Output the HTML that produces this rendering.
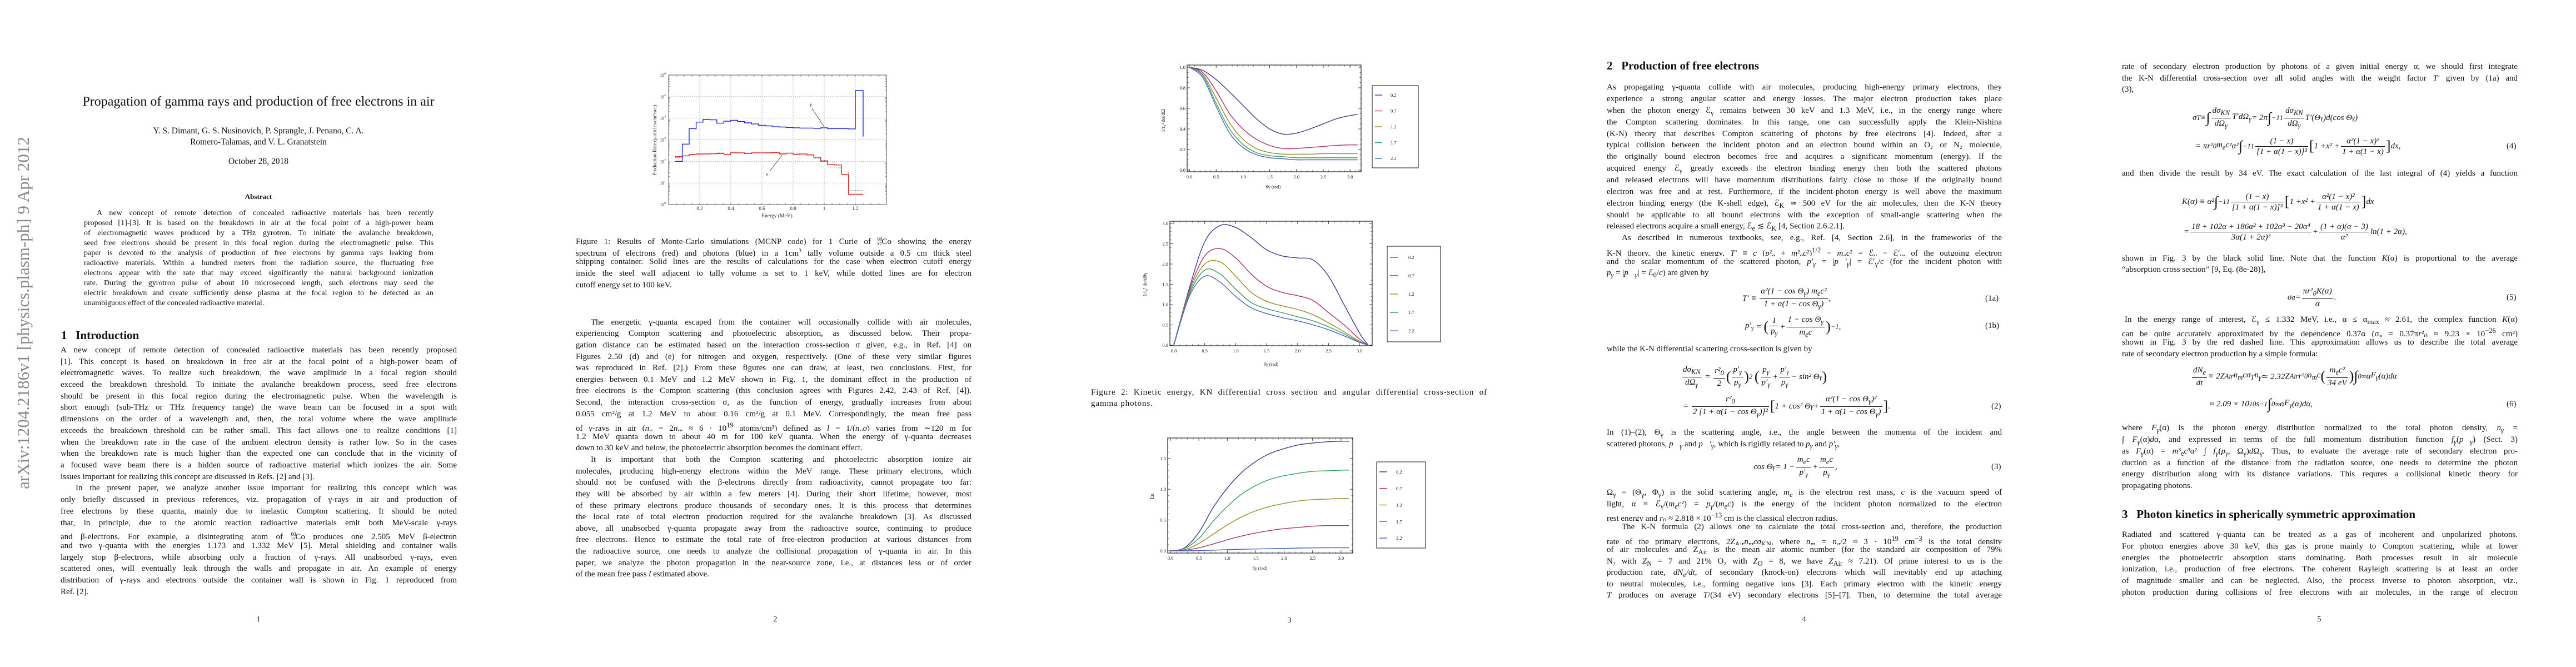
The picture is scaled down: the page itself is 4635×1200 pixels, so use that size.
<!DOCTYPE html>
<html><head><meta charset="utf-8">
<style>
html,body{margin:0;padding:0;background:#fff;}
body{width:4635px;height:1200px;position:relative;overflow:hidden;font-family:"Liberation Serif","DejaVu Serif",serif;color:#111;}
.ln{position:absolute;height:21px;line-height:21px;font-size:15px;overflow:hidden;text-align:justify;text-align-last:justify;white-space:normal;}
.ln.e{text-align-last:left;}
.ln.i{text-indent:27px;}
.ab{font-size:14px;height:19px;line-height:19px;}
.ctr{position:absolute;text-align:center;white-space:nowrap;}
.h{position:absolute;font-size:21px;font-weight:bold;white-space:nowrap;}
.pn{position:absolute;font-size:14px;width:20px;text-align:center;}
.eq{position:absolute;height:56px;display:flex;align-items:center;font-size:15px;white-space:nowrap;font-style:italic;}
.eqn{position:absolute;font-size:15px;height:20px;line-height:20px;}
.fr{display:inline-block;vertical-align:middle;text-align:center;margin:0 2px;}
.fr>span{display:block;line-height:18px;padding:0 2px;}
.fr>span+span{border-top:1px solid #111;}
.big{font-size:26px;font-style:normal;}
.up{font-style:normal;}
svg text{font-family:"Liberation Serif",serif;}
</style></head>
<body>

<svg id="charts" width="4635" height="1200" style="position:absolute;left:0;top:0;"></svg>

<!-- PAGE 1 -->
<div style="position:absolute;left:42px;top:563px;width:0;height:0;">
  <div style="position:absolute;transform:translate(-50%,-50%) rotate(-90deg);font-size:31px;color:#8a8a8a;white-space:nowrap;">arXiv:1204.2186v1  [physics.plasm-ph]  9 Apr 2012</div>
</div>
<div class="ctr" style="left:0;width:930px;top:170px;font-size:24px;">Propagation of gamma rays and production of free electrons in air</div>
<div class="ctr" style="left:0;width:930px;top:226px;font-size:15.5px;line-height:20px;">Y. S. Dimant, G. S. Nusinovich, P. Sprangle, J. Penano, C. A.<br>Romero-Talamas, and V. L. Granatstein</div>
<div class="ctr" style="left:0;width:930px;top:282px;font-size:15.5px;">October 28, 2018</div>
<div class="ctr" style="left:0;width:930px;top:346px;font-size:13px;font-weight:bold;">Abstract</div>
<div>
<div class="ln ab" style="left:151px;width:629px;top:374px;text-indent:23px;">A new concept of remote detection of concealed radioactive materials has been recently</div>
<div class="ln ab" style="left:151px;width:629px;top:392px;">proposed [1]-[3]. It is based on the breakdown in air at the focal point of a high-power beam</div>
<div class="ln ab" style="left:151px;width:629px;top:410px;">of electromagnetic waves produced by a THz gyrotron. To initiate the avalanche breakdown,</div>
<div class="ln ab" style="left:151px;width:629px;top:428px;">seed free electrons should be present in this focal region during the electromagnetic pulse. This</div>
<div class="ln ab" style="left:151px;width:629px;top:446px;">paper is devoted to the analysis of production of free electrons by gamma rays leaking from</div>
<div class="ln ab" style="left:151px;width:629px;top:464px;">radioactive materials. Within a hundred meters from the radiation source, the fluctuating free</div>
<div class="ln ab" style="left:151px;width:629px;top:482px;">electrons appear with the rate that may exceed significantly the natural background ionization</div>
<div class="ln ab" style="left:151px;width:629px;top:500px;">rate. During the gyrotron pulse of about 10 microsecond length, such electrons may seed the</div>
<div class="ln ab" style="left:151px;width:629px;top:518px;">electric breakdown and create sufficiently dense plasma at the focal region to be detected as an</div>
<div class="ln ab e" style="left:151px;width:629px;top:536px;">unambiguous effect of the concealed radioactive material.</div>
</div>
<div class="h" style="left:110px;top:591px;">1&nbsp;&nbsp;&nbsp;Introduction</div>
<div>
<div class="ln" style="left:109px;width:713px;top:620px;">A new concept of remote detection of concealed radioactive materials has been recently proposed</div>
<div class="ln" style="left:109px;width:713px;top:641px;">[1]. This concept is based on breakdown in free air at the focal point of a high-power beam of</div>
<div class="ln" style="left:109px;width:713px;top:661px;">electromagnetic waves. To realize such breakdown, the wave amplitude in a focal region should</div>
<div class="ln" style="left:109px;width:713px;top:682px;">exceed the breakdown threshold. To initiate the avalanche breakdown process, seed free electrons</div>
<div class="ln" style="left:109px;width:713px;top:703px;">should be present in this focal region during the electromagnetic pulse. When the wavelength is</div>
<div class="ln" style="left:109px;width:713px;top:723px;">short enough (sub-THz or THz frequency range) the wave beam can be focused in a spot with</div>
<div class="ln" style="left:109px;width:713px;top:744px;">dimensions on the order of a wavelength and, then, the total volume where the wave amplitude</div>
<div class="ln" style="left:109px;width:713px;top:765px;">exceeds the breakdown threshold can be rather small. This fact allows one to realize conditions [1]</div>
<div class="ln" style="left:109px;width:713px;top:786px;">when the breakdown rate in the case of the ambient electron density is rather low. So in the cases</div>
<div class="ln" style="left:109px;width:713px;top:806px;">when the breakdown rate is much higher than the expected one can conclude that in the vicinity of</div>
<div class="ln" style="left:109px;width:713px;top:827px;">a focused wave beam there is a hidden source of radioactive material which ionizes the air. Some</div>
<div class="ln e" style="left:109px;width:713px;top:848px;">issues important for realizing this concept are discussed in Refs. [2] and [3].</div>
<div class="ln i" style="left:109px;width:713px;top:868px;">In the present paper, we analyze another issue important for realizing this concept which was</div>
<div class="ln" style="left:109px;width:713px;top:889px;">only briefly discussed in previous references, viz. propagation of γ-rays in air and production of</div>
<div class="ln" style="left:109px;width:713px;top:910px;">free electrons by these quanta, mainly due to inelastic Compton scattering. It should be noted</div>
<div class="ln" style="left:109px;width:713px;top:931px;">that, in principle, due to the atomic reaction radioactive materials emit both MeV-scale γ-rays</div>
<div class="ln" style="left:109px;width:713px;top:951px;">and β-electrons. For example, a disintegrating atom of <sup style="font-size:9px">60</sup><sub style="font-size:9px;margin-left:-10px">27</sub>Co produces one 2.505 MeV β-electron</div>
<div class="ln" style="left:109px;width:713px;top:972px;">and two γ-quanta with the energies 1.173 and 1.332 MeV [5]. Metal shielding and container walls</div>
<div class="ln" style="left:109px;width:713px;top:993px;">largely stop β-electrons, while absorbing only a fraction of γ-rays. All unabsorbed γ-rays, even</div>
<div class="ln" style="left:109px;width:713px;top:1013px;">scattered ones, will eventually leak through the walls and propagate in air. An example of energy</div>
<div class="ln" style="left:109px;width:713px;top:1034px;">distribution of γ-rays and electrons outside the container wall is shown in Fig. 1 reproduced from</div>
<div class="ln e" style="left:109px;width:713px;top:1055px;">Ref. [2].</div>
</div>
<div class="pn" style="left:455px;top:1107px;">1</div>

<!-- PAGE 2 -->
<div>
<div class="ln" style="left:1036px;width:712px;top:420px;">Figure 1: Results of Monte-Carlo simulations (MCNP code) for 1 Curie of <sup style="font-size:9px">60</sup><sub style="font-size:9px;margin-left:-10px">27</sub>Co showing the energy</div>
<div class="ln" style="left:1036px;width:712px;top:441px;">spectrum of electrons (red) and photons (blue) in a 1cm<sup style="font-size:9px">3</sup> tally volume outside a 0.5 cm thick steel</div>
<div class="ln" style="left:1036px;width:712px;top:461px;">shipping container. Solid lines are the results of calculations for the case when electron cutoff energy</div>
<div class="ln" style="left:1036px;width:712px;top:482px;">inside the steel wall adjacent to tally volume is set to 1 keV, while dotted lines are for electron</div>
<div class="ln e" style="left:1036px;width:712px;top:503px;">cutoff energy set to 100 keV.</div>
</div>
<div>
<div class="ln i" style="left:1036px;width:712px;top:570px;">The energetic γ-quanta escaped from the container will occasionally collide with air molecules,</div>
<div class="ln" style="left:1036px;width:712px;top:590px;">experiencing Compton scattering and photoelectric absorption, as discussed below. Their propa-</div>
<div class="ln" style="left:1036px;width:712px;top:611px;">gation distance can be estimated based on the interaction cross-section σ given, e.g., in Ref. [4] on</div>
<div class="ln" style="left:1036px;width:712px;top:632px;">Figures 2.50 (d) and (e) for nitrogen and oxygen, respectively. (One of these very similar figures</div>
<div class="ln" style="left:1036px;width:712px;top:652px;">was reproduced in Ref. [2].) From these figures one can draw, at least, two conclusions. First, for</div>
<div class="ln" style="left:1036px;width:712px;top:673px;">energies between 0.1 MeV and 1.2 MeV shown in Fig. 1, the dominant effect in the production of</div>
<div class="ln" style="left:1036px;width:712px;top:693px;">free electrons is the Compton scattering (this conclusion agrees with Figures 2.42, 2.43 of Ref. [4]).</div>
<div class="ln" style="left:1036px;width:712px;top:714px;">Second, the interaction cross-section σ, as the function of energy, gradually increases from about</div>
<div class="ln" style="left:1036px;width:712px;top:735px;">0.055 cm²/g at 1.2 MeV to about 0.16 cm²/g at 0.1 MeV. Correspondingly, the mean free pass</div>
<div class="ln" style="left:1036px;width:712px;top:755px;">of γ-rays in air (<i>n<sub>a</sub></i> = 2<i>n<sub>m</sub></i> ≈ 6 · 10<sup>19</sup> atoms/cm³) defined as <i>l</i> = 1/(<i>n<sub>a</sub>σ</i>) varies from ∼120 m for</div>
<div class="ln" style="left:1036px;width:712px;top:776px;">1.2 MeV quanta down to about 40 m for 100 keV quanta. When the energy of γ-quanta decreases</div>
<div class="ln e" style="left:1036px;width:712px;top:796px;">down to 30 keV and below, the photoelectric absorption becomes the dominant effect.</div>
<div class="ln i" style="left:1036px;width:712px;top:817px;">It is important that both the Compton scattering and photoelectric absorption ionize air</div>
<div class="ln" style="left:1036px;width:712px;top:838px;">molecules, producing high-energy electrons within the MeV range. These primary electrons, which</div>
<div class="ln" style="left:1036px;width:712px;top:858px;">should not be confused with the β-electrons directly from radioactivity, cannot propagate too far:</div>
<div class="ln" style="left:1036px;width:712px;top:879px;">they will be absorbed by air within a few meters [4]. During their short lifetime, however, most</div>
<div class="ln" style="left:1036px;width:712px;top:900px;">of these primary electrons produce thousands of secondary ones. It is this process that determines</div>
<div class="ln" style="left:1036px;width:712px;top:920px;">the local rate of total electron production required for the avalanche breakdown [3]. As discussed</div>
<div class="ln" style="left:1036px;width:712px;top:941px;">above, all unabsorbed γ-quanta propagate away from the radioactive source, continuing to produce</div>
<div class="ln" style="left:1036px;width:712px;top:961px;">free electrons. Hence to estimate the total rate of free-electron production at various distances from</div>
<div class="ln" style="left:1036px;width:712px;top:982px;">the radioactive source, one needs to analyze the collisional propagation of γ-quanta in air. In this</div>
<div class="ln" style="left:1036px;width:712px;top:1003px;">paper, we analyze the photon propagation in the near-source zone, i.e., at distances less or of order</div>
<div class="ln e" style="left:1036px;width:712px;top:1023px;">of the mean free pass <i>l</i> estimated above.</div>
</div>
<div class="pn" style="left:1385px;top:1107px;">2</div>

<!-- PAGE 3 -->
<div>
<div class="ln" style="left:1963px;width:713px;top:696px;letter-spacing:0.9px;">Figure 2: Kinetic energy, KN differential cross section and angular differential cross-section of</div>
<div class="ln e" style="left:1963px;width:713px;top:716px;letter-spacing:0.9px;">gamma photons.</div>
</div>
<div class="pn" style="left:2310px;top:1109px;">3</div>

<!-- PAGE 4 -->
<div class="h" style="left:2891px;top:106px;">2&nbsp;&nbsp;&nbsp;Production of free electrons</div>
<div>
<div class="ln" style="left:2891px;width:711px;top:147px;">As propagating γ-quanta collide with air molecules, producing high-energy primary electrons, they</div>
<div class="ln" style="left:2891px;width:711px;top:168px;">experience a strong angular scatter and energy losses. The major electron production takes place</div>
<div class="ln" style="left:2891px;width:711px;top:189px;">when the photon energy ℰ<sub>γ</sub> remains between 30 keV and 1.3 MeV, i.e., in the energy range where</div>
<div class="ln" style="left:2891px;width:711px;top:210px;">the Compton scattering dominates. In this range, one can successfully apply the Klein-Nishina</div>
<div class="ln" style="left:2891px;width:711px;top:231px;">(K-N) theory that describes Compton scattering of photons by free electrons [4]. Indeed, after a</div>
<div class="ln" style="left:2891px;width:711px;top:251px;">typical collision between the incident photon and an electron bound within an O₂ or N₂ molecule,</div>
<div class="ln" style="left:2891px;width:711px;top:272px;">the originally bound electron becomes free and acquires a significant momentum (energy). If the</div>
<div class="ln" style="left:2891px;width:711px;top:293px;">acquired energy ℰ<sub>γ</sub> greatly exceeds the electron binding energy then both the scattered photons</div>
<div class="ln" style="left:2891px;width:711px;top:314px;">and released electrons will have momentum distributions fairly close to those if the originally bound</div>
<div class="ln" style="left:2891px;width:711px;top:335px;">electron was free and at rest. Furthermore, if the incident-photon energy is well above the maximum</div>
<div class="ln" style="left:2891px;width:711px;top:356px;">electron binding energy (the K-shell edge), ℰ<sub>K</sub> ≃ 500 eV for the air molecules, then the K-N theory</div>
<div class="ln" style="left:2891px;width:711px;top:377px;">should be applicable to all bound electrons with the exception of small-angle scattering when the</div>
<div class="ln e" style="left:2891px;width:711px;top:397px;">released electrons acquire a small energy, ℰ<sub>e</sub> ≲ ℰ<sub>K</sub> [4, Section 2.6.2.1].</div>
<div class="ln i" style="left:2891px;width:711px;top:418px;">As described in numerous textbooks, see, e.g., Ref. [4, Section 2.6], in the frameworks of the</div>
<div class="ln" style="left:2891px;width:711px;top:440px;">K-N theory, the kinetic energy, <i>T′</i> ≡ <i>c</i> (<i>p</i>²<sub>e</sub> + <i>m</i>²<sub>e</sub><i>c</i>²)<sup>1/2</sup> − <i>m<sub>e</sub>c</i>² = ℰ<sub>γ</sub> − ℰ′<sub>γ</sub>, of the outgoing electron</div>
<div class="ln" style="left:2891px;width:711px;top:461px;">and the scalar momentum of the scattered photon, <i>p′<sub>γ</sub></i> = |<i>p⃗′<sub>γ</sub></i>| = ℰ′<sub>γ</sub>/<i>c</i> (for the incident photon with</div>
<div class="ln e" style="left:2891px;width:711px;top:481px;"><i>p<sub>γ</sub></i> = |<i>p⃗<sub>γ</sub></i>| = ℰ<sub>0</sub>/<i>c</i>) are given by</div>
</div>
<div class="eq" style="left:3135px;top:509px;"><i>T′</i>&nbsp;≡&nbsp;<span class="fr"><span>α²(1 − cos Θ<sub>γ</sub>) <i>m<sub>e</sub>c</i>²</span><span>1 + α(1 − cos Θ<sub>γ</sub>)</span></span>,</div>
<div class="eqn" style="left:3572px;top:527px;">(1a)</div>
<div class="eq" style="left:3140px;top:560px;"><i>p′<sub>γ</sub></i>&nbsp;=&nbsp;<span class="big">(</span><span class="fr"><span>1</span><span><i>p<sub>γ</sub></i></span></span>+<span class="fr"><span>1 − cos Θ<sub>γ</sub></span><span><i>m<sub>e</sub>c</i></span></span><span class="big">)</span><sup>−1</sup>,</div>
<div class="eqn" style="left:3572px;top:576px;">(1b)</div>
<div class="ln e" style="left:2891px;width:711px;top:618px;">while the K-N differential scattering cross-section is given by</div>
<div class="eq" style="left:3024px;top:650px;"><span class="fr"><span><i>dσ</i><sub>KN</sub></span><span><i>d</i>Ω<sub>γ</sub></span></span>&nbsp;=&nbsp;<span class="fr"><span><i>r</i>²<sub>0</sub></span><span>2</span></span><span class="big">(</span><span class="fr"><span><i>p′<sub>γ</sub></i></span><span><i>p<sub>γ</sub></i></span></span><span class="big">)</span><sup>2</sup>&nbsp;<span class="big">(</span><span class="fr"><span><i>p<sub>γ</sub></i></span><span><i>p′<sub>γ</sub></i></span></span>+<span class="fr"><span><i>p′<sub>γ</sub></i></span><span><i>p<sub>γ</sub></i></span></span>− sin² Θ<sub>γ</sub><span class="big">)</span></div>
<div class="eq" style="left:3028px;top:703px;">=&nbsp;<span class="fr"><span><i>r</i>²<sub>0</sub></span><span>2 [1 + α(1 − cos Θ<sub>γ</sub>)]²</span></span><span class="big">[</span>1 + cos² Θ<sub>γ</sub> + <span class="fr"><span>α²(1 − cos Θ<sub>γ</sub>)²</span><span>1 + α(1 − cos Θ<sub>γ</sub>)</span></span><span class="big">]</span>.</div>
<div class="eqn" style="left:3583px;top:721px;">(2)</div>
<div class="ln" style="left:2891px;width:711px;top:768px;">In (1)–(2), Θ<sub>γ</sub> is the scattering angle, i.e., the angle between the momenta of the incident and</div>
<div class="ln e" style="left:2891px;width:711px;top:789px;">scattered photons, <i>p⃗<sub>γ</sub></i> and <i>p⃗′<sub>γ</sub></i>, which is rigidly related to <i>p<sub>γ</sub></i> and <i>p′<sub>γ</sub></i>,</div>
<div class="eq" style="left:3155px;top:812px;">cos Θ<sub>γ</sub> = 1 − <span class="fr"><span><i>m<sub>e</sub>c</i></span><span><i>p′<sub>γ</sub></i></span></span>+<span class="fr"><span><i>m<sub>e</sub>c</i></span><span><i>p<sub>γ</sub></i></span></span>,</div>
<div class="eqn" style="left:3583px;top:830px;">(3)</div>
<div class="ln" style="left:2891px;width:711px;top:876px;">Ω<sub>γ</sub> = (Θ<sub>γ</sub>, Φ<sub>γ</sub>) is the solid scattering angle, <i>m<sub>e</sub></i> is the electron rest mass, <i>c</i> is the vacuum speed of</div>
<div class="ln" style="left:2891px;width:711px;top:897px;">light, α ≡ ℰ<sub>γ</sub>/(<i>m<sub>e</sub>c</i>²) = <i>p<sub>γ</sub></i>/(<i>m<sub>e</sub>c</i>) is the energy of the incident photon normalized to the electron</div>
<div class="ln e" style="left:2891px;width:711px;top:917px;">rest energy and <i>r</i><sub>0</sub> ≈ 2.818 × 10<sup>−13</sup> cm is the classical electron radius.</div>
<div class="ln i" style="left:2891px;width:711px;top:938px;">The K-N formula (2) allows one to calculate the total cross-section and, therefore, the production</div>
<div class="ln" style="left:2891px;width:711px;top:959px;">rate of the primary electrons, 2<i>Z</i><sub>Air</sub><i>n<sub>m</sub>cσ</i><sub>KN</sub>, where <i>n<sub>m</sub></i> = <i>n<sub>a</sub></i>/2 ≈ 3 · 10<sup>19</sup> cm<sup>−3</sup> is the total density</div>
<div class="ln" style="left:2891px;width:711px;top:979px;">of air molecules and Z<sub>Air</sub> is the mean air atomic number (for the standard air composition of 79%</div>
<div class="ln" style="left:2891px;width:711px;top:1000px;">N₂ with <i>Z</i><sub>N</sub> = 7 and 21% O₂ with <i>Z</i><sub>O</sub> = 8, we have <i>Z</i><sub>Air</sub> ≈ 7.21). Of prime interest to us is the</div>
<div class="ln" style="left:2891px;width:711px;top:1020px;">production rate, <i>dN<sub>e</sub>/dt</i>, of secondary (knock-on) electrons which will inevitably end up attaching</div>
<div class="ln" style="left:2891px;width:711px;top:1041px;">to neutral molecules, i.e., forming negative ions [3]. Each primary electron with the kinetic energy</div>
<div class="ln" style="left:2891px;width:711px;top:1061px;"><i>T</i> produces on average <i>T</i>/(34 eV) secondary electrons [5]–[7]. Then, to determine the total average</div>
<div class="pn" style="left:3236px;top:1107px;">4</div>

<!-- PAGE 5 -->
<div class="ln" style="left:3818px;width:712px;top:110px;">rate of secondary electron production by photons of a given initial energy α, we should first integrate</div>
<div class="ln" style="left:3818px;width:712px;top:131px;">the K-N differential cross-section over all solid angles with the weight factor <i>T′</i> given by (1a) and</div>
<div class="ln e" style="left:3818px;width:712px;top:151px;">(3),</div>
<div class="eq" style="left:3945px;top:184px;">σ<sub>T</sub> ≡ <span class="big">∫</span><span class="fr"><span><i>dσ</i><sub>KN</sub></span><span><i>d</i>Ω<sub>γ</sub></span></span><i>T′dΩ<sub>γ</sub></i> = 2π <span class="big">∫</span><sub>−1</sub><sup>1</sup><span class="fr"><span><i>dσ</i><sub>KN</sub></span><span><i>d</i>Ω<sub>γ</sub></span></span><i>T′</i>(Θ<sub>γ</sub>)<i>d</i>(cos Θ<sub>γ</sub>)</div>
<div class="eq" style="left:3950px;top:235px;">= π<i>r</i>²<sub>0</sub><i>m<sub>e</sub>c</i>²α² <span class="big">∫</span><sub>−1</sub><sup>1</sup><span class="fr"><span>(1 − <i>x</i>)</span><span>[1 + α(1 − <i>x</i>)]³</span></span><span class="big">[</span>1 + <i>x</i>² + <span class="fr"><span>α²(1 − <i>x</i>)²</span><span>1 + α(1 − <i>x</i>)</span></span><span class="big">]</span> <i>dx</i>,</div>
<div class="eqn" style="left:4510px;top:253px;">(4)</div>
<div class="ln" style="left:3818px;width:712px;top:302px;">and then divide the result by 34 eV. The exact calculation of the last integral of (4) yields a function</div>
<div class="eq" style="left:3926px;top:335px;"><i>K</i>(α) ≡ α² <span class="big">∫</span><sub>−1</sub><sup>1</sup><span class="fr"><span>(1 − <i>x</i>)</span><span>[1 + α(1 − <i>x</i>)]³</span></span><span class="big">[</span>1 + <i>x</i>² + <span class="fr"><span>α²(1 − <i>x</i>)²</span><span>1 + α(1 − <i>x</i>)</span></span><span class="big">]</span> <i>dx</i></div>
<div class="eq" style="left:3929px;top:389px;">= <span class="fr"><span>18 + 102α + 186α² + 102α³ − 20α⁴</span><span>3α(1 + 2α)³</span></span>+<span class="fr"><span>(1 + α)(α − 3)</span><span>α²</span></span> ln(1 + 2α),</div>
<div class="ln" style="left:3818px;width:712px;top:455px;">shown in Fig. 3 by the black solid line. Note that the function <i>K</i>(α) is proportional to the average</div>
<div class="ln e" style="left:3818px;width:712px;top:475px;">“absorption cross section” [9, Eq. (8e-28)],</div>
<div class="eq" style="left:4116px;top:507px;">σ<sub>a</sub> = <span class="fr"><span>π<i>r</i>²<sub>0</sub><i>K</i>(α)</span><span>α</span></span>.</div>
<div class="eqn" style="left:4510px;top:525px;">(5)</div>
<div class="ln i" style="left:3818px;width:712px;top:565px;text-indent:5px;">In the energy range of interest, ℰ<sub>γ</sub> ≤ 1.332 MeV, i.e., α ≤ α<sub>max</sub> ≈ 2.61, the complex function <i>K</i>(α)</div>
<div class="ln" style="left:3818px;width:712px;top:585px;">can be quite accurately approximated by the dependence 0.37α (σ<sub>a</sub> = 0.37π<i>r</i>²<sub>0</sub> ≈ 9.23 × 10<sup>−26</sup> cm²)</div>
<div class="ln" style="left:3818px;width:712px;top:606px;">shown in Fig. 3 by the red dashed line. This approximation allows us to describe the total average</div>
<div class="ln e" style="left:3818px;width:712px;top:627px;">rate of secondary electron production by a simple formula:</div>
<div class="eq" style="left:3942px;top:649px;"><span class="fr"><span><i>dN<sub>e</sub></i></span><span><i>dt</i></span></span> ≡ 2<i>Z</i><sub>Air</sub><i>n<sub>m</sub>cσ<sub>T</sub>n<sub>γ</sub></i> ≃ 2.32<i>Z</i><sub>Air</sub><i>r</i>²<sub>0</sub><i>n<sub>m</sub>c</i><span class="big">(</span><span class="fr"><span><i>m<sub>e</sub>c</i>²</span><span>34 eV</span></span><span class="big">)</span><span class="big">∫</span><sub>0</sub><sup>∞</sup> α<i>F<sub>γ</sub></i>(α)<i>d</i>α</div>
<div class="eq" style="left:3976px;top:699px;">≈ 2.09 × 10<sup>10</sup> s<sup>−1</sup> <span class="big">∫</span><sub>0</sub><sup>∞</sup> α<i>F<sub>γ</sub></i>(α)<i>d</i>α,</div>
<div class="eqn" style="left:4510px;top:717px;">(6)</div>
<div class="ln" style="left:3818px;width:712px;top:760px;">where <i>F<sub>γ</sub></i>(α) is the photon energy distribution normalized to the total photon density, <i>n<sub>γ</sub></i> =</div>
<div class="ln" style="left:3818px;width:712px;top:781px;">∫ <i>F<sub>γ</sub></i>(α)<i>d</i>α, and expressed in terms of the full momentum distribution function <i>f<sub>γ</sub></i>(<i>p⃗<sub>γ</sub></i>) (Sect. 3)</div>
<div class="ln" style="left:3818px;width:712px;top:802px;">as <i>F<sub>γ</sub></i>(α) = <i>m</i>³<sub>e</sub><i>c</i>³α² ∫ <i>f<sub>γ</sub></i>(<i>p<sub>γ</sub></i>, Ω<sub>γ</sub>)<i>d</i>Ω<sub>γ</sub>. Thus, to evaluate the average rate of secondary electron pro-</div>
<div class="ln" style="left:3818px;width:712px;top:823px;">duction as a function of the distance from the radiation source, one needs to determine the photon</div>
<div class="ln" style="left:3818px;width:712px;top:843px;">energy distribution along with its distance variations. This requres a collisional kinetic theory for</div>
<div class="ln e" style="left:3818px;width:712px;top:864px;">propagating photons.</div>
<div class="h" style="left:3818px;top:913px;">3&nbsp;&nbsp;&nbsp;Photon kinetics in spherically symmetric approximation</div>
<div class="ln" style="left:3818px;width:712px;top:952px;">Radiated and scattered γ-quanta can be treated as a gas of incoherent and unpolarized photons.</div>
<div class="ln" style="left:3818px;width:712px;top:973px;">For photon energies above 30 keV, this gas is prone mainly to Compton scattering, while at lower</div>
<div class="ln" style="left:3818px;width:712px;top:994px;">energies the photoelectric absorption starts dominating. Both processes result in air molecule</div>
<div class="ln" style="left:3818px;width:712px;top:1014px;">ionization, i.e., production of free electrons. The coherent Rayleigh scattering is at least an order</div>
<div class="ln" style="left:3818px;width:712px;top:1035px;">of magnitude smaller and can be neglected. Also, the process inverse to photon absorption, viz.,</div>
<div class="ln" style="left:3818px;width:712px;top:1056px;">photon production during collisions of free electrons with air molecules, in the range of electron</div>
<div class="pn" style="left:4163px;top:1107px;">5</div>

<script>
// ---------- Figure 1 data (MCNP spectra) ----------
const binEdges = [0.043,0.088,0.132,0.177,0.221,0.266,0.310,0.355,0.399,0.444,0.488,0.533,0.577,0.622,0.666,0.711,0.755,0.800,0.844,0.889,0.933,0.978,1.022,1.067,1.111,1.156,1.200,1.250];
const photonRate = [100,630,3300,6600,8700,8400,5900,7300,8000,7000,6100,5400,4700,4400,4000,3900,3700,3600,3500,3500,3400,3600,3300,3300,3300,3200,190000];
const photonTail = 1400;
const electronRate = [170,180,210,220,220,225,230,210,250,250,230,250,250,250,260,220,240,210,220,200,155,102,70,68,25,3,3];
const electronRateDotted = [150,175,200,215,225,230,245,240,255,250,240,245,250,255,255,240,245,225,215,190,140,110,55,50,32,4.5,4.5];
const fig1XTicks = [0.2,0.4,0.6,0.8,1,1.2];
const fig1XTickLabels = ['0.2','0.4','0.6','0.8','1','1.2'];
const fig1YDecades = [0,1,2,3,4,5,6];

// ---------- Figure 2/3 data (KN curves) ----------
const thetaGrid = [0,0.25,0.5,0.75,1.0,1.25,1.5,1.75,2.0,2.25,2.5,2.75,3.0,3.14];
const seriesLabels = ['0.2','0.7','1.2','1.7','2.2'];
const angA_02 = [1.0,0.97,0.88,0.76,0.63,0.50,0.40,0.35,0.36,0.40,0.45,0.50,0.53,0.54];
const angA_07 = [1.0,0.95,0.77,0.55,0.40,0.30,0.24,0.21,0.21,0.22,0.23,0.24,0.245,0.245];
const angA_12 = [1.0,0.93,0.70,0.46,0.30,0.21,0.17,0.155,0.155,0.155,0.16,0.16,0.16,0.16];
const angA_17 = [1.0,0.92,0.65,0.40,0.25,0.17,0.14,0.13,0.12,0.12,0.12,0.12,0.12,0.12];
const angA_22 = [1.0,0.90,0.62,0.36,0.22,0.15,0.12,0.11,0.10,0.10,0.10,0.10,0.10,0.10];
const angB_02 = [0,1.4,2.55,2.95,2.9,2.65,2.35,2.2,2.15,2.1,1.7,1.0,0.3,0];
const angB_07 = [0,1.35,2.2,2.38,2.15,1.75,1.45,1.3,1.22,1.1,0.8,0.5,0.15,0];
const angB_12 = [0,1.3,2.0,2.05,1.7,1.3,1.08,0.97,0.88,0.75,0.55,0.33,0.1,0];
const angB_17 = [0,1.25,1.85,1.75,1.38,1.05,0.9,0.8,0.7,0.6,0.45,0.28,0.08,0];
const angB_22 = [0,1.2,1.7,1.55,1.2,0.92,0.78,0.68,0.6,0.5,0.38,0.23,0.07,0];
const enC_top = [0,0.05,0.3,0.7,1.02,1.27,1.45,1.58,1.66,1.72,1.75,1.77,1.78,1.78];
const enC_second = [0,0.04,0.2,0.48,0.72,0.92,1.06,1.16,1.22,1.26,1.29,1.3,1.31,1.31];
const enC_third = [0,0.02,0.12,0.27,0.42,0.55,0.65,0.72,0.77,0.81,0.83,0.84,0.85,0.85];
const enC_fourth = [0,0.01,0.05,0.11,0.18,0.24,0.29,0.33,0.36,0.38,0.40,0.41,0.41,0.41];
const enC_fifth = [0,0,0.005,0.01,0.02,0.025,0.03,0.035,0.04,0.045,0.048,0.05,0.05,0.05];
const thetaTicks = [0,0.5,1.0,1.5,2.0,2.5,3.0];

const COLORS = ['#3a3a8c','#b0306e','#9a8a2c','#32a05a','#4462c4'];
const NS = 'http://www.w3.org/2000/svg';
const svg = document.getElementById('charts');

function mk(tag, parent, name) {
  const e = document.createElementNS(NS, tag);
  
  
  (parent || svg).appendChild(e);
  return e;
}
function txt(parent, name, x, y, s, size, anchor, extra) {
  const t = mk('text', parent, name);
  t.setAttribute('x', x); t.setAttribute('y', y);
  t.setAttribute('font-size', size); t.setAttribute('text-anchor', anchor || 'middle');
  t.setAttribute('fill', '#222');
  if (extra) t.setAttribute('transform', extra);
  t.textContent = s;
  return t;
}
function line(parent, name, x1, y1, x2, y2, stroke, w, dash) {
  const l = mk('line', parent, name);
  l.setAttribute('x1', x1); l.setAttribute('y1', y1); l.setAttribute('x2', x2); l.setAttribute('y2', y2);
  l.setAttribute('stroke', stroke); l.setAttribute('stroke-width', w);
  if (dash) l.setAttribute('stroke-dasharray', dash);
  return l;
}

// ---------- Figure 1 ----------
(function(){
  const g = mk('g', svg, 'figure-1-spectrum-chart');
  const X0 = 1203, X1 = 1595, Y0 = 368, Y1 = 135;
  const sx = v => X0 + (v - 0) / 1.4 * (X1 - X0);
  const sy = v => Y0 - Math.log10(Math.max(v, 1)) / 6 * (Y0 - Y1);
  fig1XTicks.forEach((t,i) => {
    line(g, 'x-gridline', sx(t), Y1, sx(t), Y0, '#888', 0.7, '1.5,2');
    txt(g, 'x-tick-label', sx(t), 378, fig1XTickLabels[i], 9, 'middle');
  });
  fig1YDecades.forEach(d => {
    const y = Y0 - d / 6 * (Y0 - Y1);
    if (d > 0 && d < 6) line(g, 'y-gridline', X0, y, X1, y, '#888', 0.7, '1.5,2');
    const t = txt(g, 'y-tick-label', X0 - 5, y + 3, '10', 8, 'end');
    const sup = document.createElementNS(NS, 'tspan');
    sup.setAttribute('dy', '-4'); sup.setAttribute('font-size', '5.5');
    sup.textContent = String(d);
    t.appendChild(sup);
    for (let m = 2; m < 10 && d < 6; m++) {
      const ym = Y0 - (d + Math.log10(m)) / 6 * (Y0 - Y1);
      line(g, 'y-minor-tick', X0, ym, X0 + 2.5, ym, '#444', 0.6);
      line(g, 'y-minor-tick', X1, ym, X1 - 2.5, ym, '#444', 0.6);
    }
  });
  for (let k = 1; k < 28; k++) {
    const xv = k * 0.05;
    line(g, 'x-minor-tick', sx(xv), Y0, sx(xv), Y0 - 3, '#444', 0.6);
    line(g, 'x-minor-tick', sx(xv), Y1, sx(xv), Y1 + 3, '#444', 0.6);
  }
  const frame = mk('rect', g, 'plot-frame');
  frame.setAttribute('x', X0); frame.setAttribute('y', Y1); frame.setAttribute('width', X1 - X0); frame.setAttribute('height', Y0 - Y1);
  frame.setAttribute('fill', 'none'); frame.setAttribute('stroke', '#555'); frame.setAttribute('stroke-width', 1);

  function stepPath(vals, tail) {
    let d = 'M' + sx(binEdges[0]).toFixed(1) + ',' + sy(vals[0]).toFixed(1);
    for (let i = 0; i < vals.length; i++) {
      if (i > 0) d += 'V' + sy(vals[i]).toFixed(1);
      d += 'H' + sx(binEdges[i + 1]).toFixed(1);
    }
    if (tail !== undefined) d += 'V' + sy(tail).toFixed(1);
    return d;
  }
  const pDot = mk('path', g, 'electron-dotted-series');
  pDot.setAttribute('d', stepPath(electronRateDotted));
  pDot.setAttribute('fill', 'none'); pDot.setAttribute('stroke', '#333'); pDot.setAttribute('stroke-width', 0.8); pDot.setAttribute('stroke-dasharray', '1,1.5');
  const pE = mk('path', g, 'electron-series');
  pE.setAttribute('d', stepPath(electronRate));
  pE.setAttribute('fill', 'none'); pE.setAttribute('stroke', '#dd2222'); pE.setAttribute('stroke-width', 1.4);
  const pG = mk('path', g, 'photon-series');
  pG.setAttribute('d', stepPath(photonRate, photonTail));
  pG.setAttribute('fill', 'none'); pG.setAttribute('stroke', '#2222dd'); pG.setAttribute('stroke-width', 1.4);

  txt(g, 'x-axis-title', 1398, 391, 'Energy (MeV)', 9.5, 'middle');
  txt(g, 'y-axis-title', 1181, 252, 'Production Rate (particles/cm³/sec)', 9, 'middle', 'rotate(-90 1181 252)');
  txt(g, 'gamma-annotation', 1459, 191, 'γ', 9, 'middle');
  line(g, 'gamma-arrow', 1461, 195, 1483, 228, '#222', 0.7);
  txt(g, 'electron-annotation', 1380, 317, 'e', 9, 'middle');
  line(g, 'electron-arrow', 1385, 308, 1407, 279, '#222', 0.7);
})();

// ---------- Curve chart helper ----------
function smoothPath(xs, ys, sx, sy) {
  const P = xs.map((x,i) => [sx(x), sy(ys[i])]);
  let d = 'M' + P[0][0].toFixed(1) + ',' + P[0][1].toFixed(1);
  for (let i = 0; i < P.length - 1; i++) {
    const p0 = P[Math.max(i-1,0)], p1 = P[i], p2 = P[i+1], p3 = P[Math.min(i+2,P.length-1)];
    const c1 = [p1[0] + (p2[0]-p0[0])/6, p1[1] + (p2[1]-p0[1])/6];
    const c2 = [p2[0] - (p3[0]-p1[0])/6, p2[1] - (p3[1]-p1[1])/6];
    d += 'C' + c1[0].toFixed(1)+','+c1[1].toFixed(1)+' '+c2[0].toFixed(1)+','+c2[1].toFixed(1)+' '+p2[0].toFixed(1)+','+p2[1].toFixed(1);
  }
  return d;
}
function curveChart(cfg) {
  const g = mk('g', svg, cfg.name);
  const sx = v => cfg.x0 + v * cfg.kx;
  const sy = v => cfg.y0 - v * cfg.ky;
  const fr = mk('rect', g, 'plot-frame');
  fr.setAttribute('x', cfg.fx0); fr.setAttribute('y', cfg.fy0); fr.setAttribute('width', cfg.fx1 - cfg.fx0); fr.setAttribute('height', cfg.fy1 - cfg.fy0);
  fr.setAttribute('fill', 'none'); fr.setAttribute('stroke', '#222'); fr.setAttribute('stroke-width', 1.2);
  thetaTicks.forEach(t => {
    line(g, 'x-major-tick', sx(t), cfg.fy1, sx(t), cfg.fy1 - 5, '#222', 0.8);
    line(g, 'x-major-tick', sx(t), cfg.fy0, sx(t), cfg.fy0 + 5, '#222', 0.8);
    txt(g, 'x-tick-label', sx(t), cfg.fy1 + 12, t.toFixed(1), 8.5, 'middle');
  });
  for (let k = 0; k <= 32; k++) {
    const v = k * 0.1;
    if (sx(v) < cfg.fx1) {
      line(g, 'x-minor-tick', sx(v), cfg.fy1, sx(v), cfg.fy1 - 2.5, '#222', 0.6);
      line(g, 'x-minor-tick', sx(v), cfg.fy0, sx(v), cfg.fy0 + 2.5, '#222', 0.6);
    }
  }
  cfg.yTicks.forEach(t => {
    line(g, 'y-major-tick', cfg.fx0, sy(t), cfg.fx0 + 5, sy(t), '#222', 0.8);
    line(g, 'y-major-tick', cfg.fx1, sy(t), cfg.fx1 - 5, sy(t), '#222', 0.8);
    txt(g, 'y-tick-label', cfg.fx0 - 3, sy(t) + 3, t.toFixed(1), 8.5, 'end');
  });
  for (let v = 0; v <= cfg.yMax + 1e-9; v += cfg.yMinor) {
    if (sy(v) > cfg.fy0) {
      line(g, 'y-minor-tick', cfg.fx0, sy(v), cfg.fx0 + 2.5, sy(v), '#222', 0.6);
      line(g, 'y-minor-tick', cfg.fx1, sy(v), cfg.fx1 - 2.5, sy(v), '#222', 0.6);
    }
  }
  cfg.series.forEach((s, i) => {
    const p = mk('path', g, 'curve-' + s.label);
    p.setAttribute('d', smoothPath(thetaGrid, s.values, sx, sy));
    p.setAttribute('fill', 'none'); p.setAttribute('stroke', s.color); p.setAttribute('stroke-width', 1.4);
  });
  const lg = mk('g', g, 'legend');
  const lb = mk('rect', lg, 'legend-box');
  lb.setAttribute('x', cfg.lx0); lb.setAttribute('y', cfg.ly0); lb.setAttribute('width', cfg.lx1 - cfg.lx0); lb.setAttribute('height', cfg.ly1 - cfg.ly0);
  lb.setAttribute('fill', '#fff'); lb.setAttribute('stroke', '#222'); lb.setAttribute('stroke-width', 1.1);
  seriesLabels.forEach((lab, i) => {
    const y = cfg.ly0 + (cfg.ly1 - cfg.ly0) * (i + 0.6) / 5.2;
    line(lg, 'legend-swatch', cfg.swx, y, cfg.swx + cfg.sww, y, COLORS[i], 1.4);
    txt(lg, 'legend-entry', cfg.ltx, y + 3, lab, 8.5, 'start');
  });
  txt(g, 'x-axis-title', cfg.xlx, cfg.xly, 'θγ (rad)', 8.5, 'middle');
  return g;
}

curveChart({name:'kn-cross-section-chart', fx0:2136, fx1:2449, fy0:117, fy1:309, x0:2140, kx:96.4, y0:306, ky:185,
  yTicks:[0,0.2,0.4,0.6,0.8,1.0], yMax:1.0, yMinor:0.05,
  series:[{label:'0.2',values:angA_02,color:COLORS[0]},{label:'0.7',values:angA_07,color:COLORS[1]},{label:'1.2',values:angA_12,color:COLORS[2]},{label:'1.7',values:angA_17,color:COLORS[3]},{label:'2.2',values:angA_22,color:COLORS[4]}],
  lx0:2469, lx1:2552, ly0:154, ly1:302, swx:2474, sww:13, ltx:2502, xlx:2291, xly:339});
curveChart({name:'angular-cross-section-chart', fx0:2105, fx1:2469, fy0:398, fy1:622, x0:2112, kx:111.4, y0:621, ky:73,
  yTicks:[0,0.5,1.0,1.5,2.0,2.5,3.0], yMax:3.0, yMinor:0.1,
  series:[{label:'0.2',values:angB_02,color:COLORS[0]},{label:'0.7',values:angB_07,color:COLORS[1]},{label:'1.2',values:angB_12,color:COLORS[2]},{label:'1.7',values:angB_17,color:COLORS[3]},{label:'2.2',values:angB_22,color:COLORS[4]}],
  lx0:2496, lx1:2592, ly0:443, ly1:615, swx:2501, sww:15, ltx:2534, xlx:2287, xly:658});
curveChart({name:'kinetic-energy-chart', fx0:2101, fx1:2434, fy0:788, fy1:995, x0:2106, kx:102.3, y0:991, ky:110.8,
  yTicks:[0,0.5,1.0,1.5], yMax:1.8, yMinor:0.1,
  series:[{label:'top',values:enC_top,color:COLORS[0]},{label:'second',values:enC_second,color:COLORS[3]},{label:'third',values:enC_third,color:COLORS[2]},{label:'fourth',values:enC_fourth,color:COLORS[1]},{label:'fifth',values:enC_fifth,color:COLORS[4]}],
  lx0:2477, lx1:2565, ly0:831, ly1:986, swx:2482, sww:14, ltx:2512, xlx:2267, xly:1025});

(function(){
  const g = mk('g', svg, 'page-3-axis-titles');
  txt(g, 'y-axis-title', 2096, 217, '1/r₀² dσ/dΩ', 9, 'middle', 'rotate(-90 2096 217)');
  txt(g, 'y-axis-title', 2063, 512, '1/r₀² dσ/dθγ', 9, 'middle', 'rotate(-90 2063 512)');
  txt(g, 'y-axis-title', 2076, 893, 'En', 9, 'middle', 'rotate(-90 2076 893)');
})();
</script>
</body></html>
